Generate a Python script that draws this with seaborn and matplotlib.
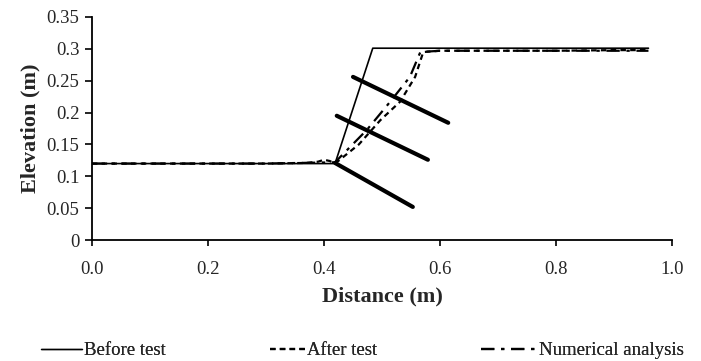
import matplotlib
matplotlib.use("Agg")
import matplotlib.pyplot as plt
import seaborn as sns
from matplotlib.lines import Line2D

# ---- data ----
before_x = [0.0, 0.419, 0.484, 0.959]
before_y = [0.12, 0.12, 0.301, 0.301]

after_x = [0.0, 0.1, 0.2, 0.3, 0.37, 0.39, 0.40, 0.41, 0.419, 0.46, 0.497, 0.531, 0.557, 0.571,
           0.60, 0.70, 0.80, 0.90, 0.959]
after_y = [0.12, 0.12, 0.12, 0.12, 0.121, 0.123, 0.126, 0.124, 0.12, 0.15, 0.188, 0.217, 0.256, 0.295,
           0.297, 0.297, 0.297, 0.298, 0.298]

num_x = [0.0, 0.1, 0.2, 0.3, 0.419, 0.474, 0.514, 0.548, 0.566, 0.60, 0.70, 0.80, 0.90, 0.959]
num_y = [0.12, 0.12, 0.12, 0.12, 0.122, 0.173, 0.217, 0.256, 0.295, 0.297, 0.297, 0.297, 0.297, 0.297]

nail_x = [[0.419, 0.553], [0.422, 0.579], [0.450, 0.614]]
nail_y = [[0.121, 0.052], [0.195, 0.126], [0.256, 0.184]]

series_labels = ["Before test", "After test", "Numerical analysis"]
xticks = [0.0, 0.2, 0.4, 0.6, 0.8, 1.0]
xticklabels = ["0.0", "0.2", "0.4", "0.6", "0.8", "1.0"]
yticks = [0, 0.05, 0.1, 0.15, 0.2, 0.25, 0.3, 0.35]
yticklabels = ["0", "0.05", "0.1", "0.15", "0.2", "0.25", "0.3", "0.35"]

sns.set_style("ticks")
plt.rcParams["font.family"] = ["Liberation Serif", "DejaVu Serif"]

fig = plt.figure(figsize=(7.01, 3.61), dpi=100)
ax = fig.add_axes([0.131, 0.335, 0.828, 0.618])

dash_after = (2.5, 1.9)
dash_num = (6.0, 3.0, 1.5, 3.0)

sns.lineplot(x=before_x, y=before_y, ax=ax, color="black", lw=1.2, sort=False, estimator=None)
sns.lineplot(x=after_x, y=after_y, ax=ax, color="black", lw=1.6, sort=False, estimator=None)
ax.lines[-1].set_dashes(dash_after)
sns.lineplot(x=num_x, y=num_y, ax=ax, color="black", lw=1.6, sort=False, estimator=None)
ax.lines[-1].set_dashes(dash_num)
for nx, ny in zip(nail_x, nail_y):
    sns.lineplot(x=nx, y=ny, ax=ax, color="black", lw=3.0, sort=False, estimator=None,
                 solid_capstyle="round")

ax.set_xlim(0, 1.0)
ax.set_ylim(0, 0.35)
ax.set_xticks(xticks)
ax.set_xticklabels(xticklabels)
ax.set_yticks(yticks)
ax.set_yticklabels(yticklabels)
ax.tick_params(axis="both", labelsize=13.5, length=5, width=1.2, color="black", pad=4)
ax.tick_params(axis="x", length=4, pad=11)
for s in ["left", "bottom"]:
    ax.spines[s].set_linewidth(1.3)
    ax.spines[s].set_color("black")
sns.despine(ax=ax)
ax.set_xlabel("Distance (m)", fontsize=16, fontweight="bold", labelpad=6)
ax.set_ylabel("Elevation (m)", fontsize=16, fontweight="bold", labelpad=4)

handles = [
    Line2D([0], [0], color="black", lw=1.0),
    Line2D([0], [0], color="black", lw=1.6, dashes=dash_after),
    Line2D([0], [0], color="black", lw=1.6, dashes=dash_num),
]
lefts = [0.058, 0.385, 0.686]
hlens = [2.2, 1.9, 3.0]
for h, lab, xl, hl in zip(handles, series_labels, lefts, hlens):
    leg = fig.legend([h], [lab], loc="center left", bbox_to_anchor=(xl, 0.028),
                     frameon=False, fontsize=13.5, handlelength=hl, handletextpad=0.1,
                     borderpad=0, borderaxespad=0)
    fig.add_artist(leg)

fig.savefig("out.png", dpi=100)
